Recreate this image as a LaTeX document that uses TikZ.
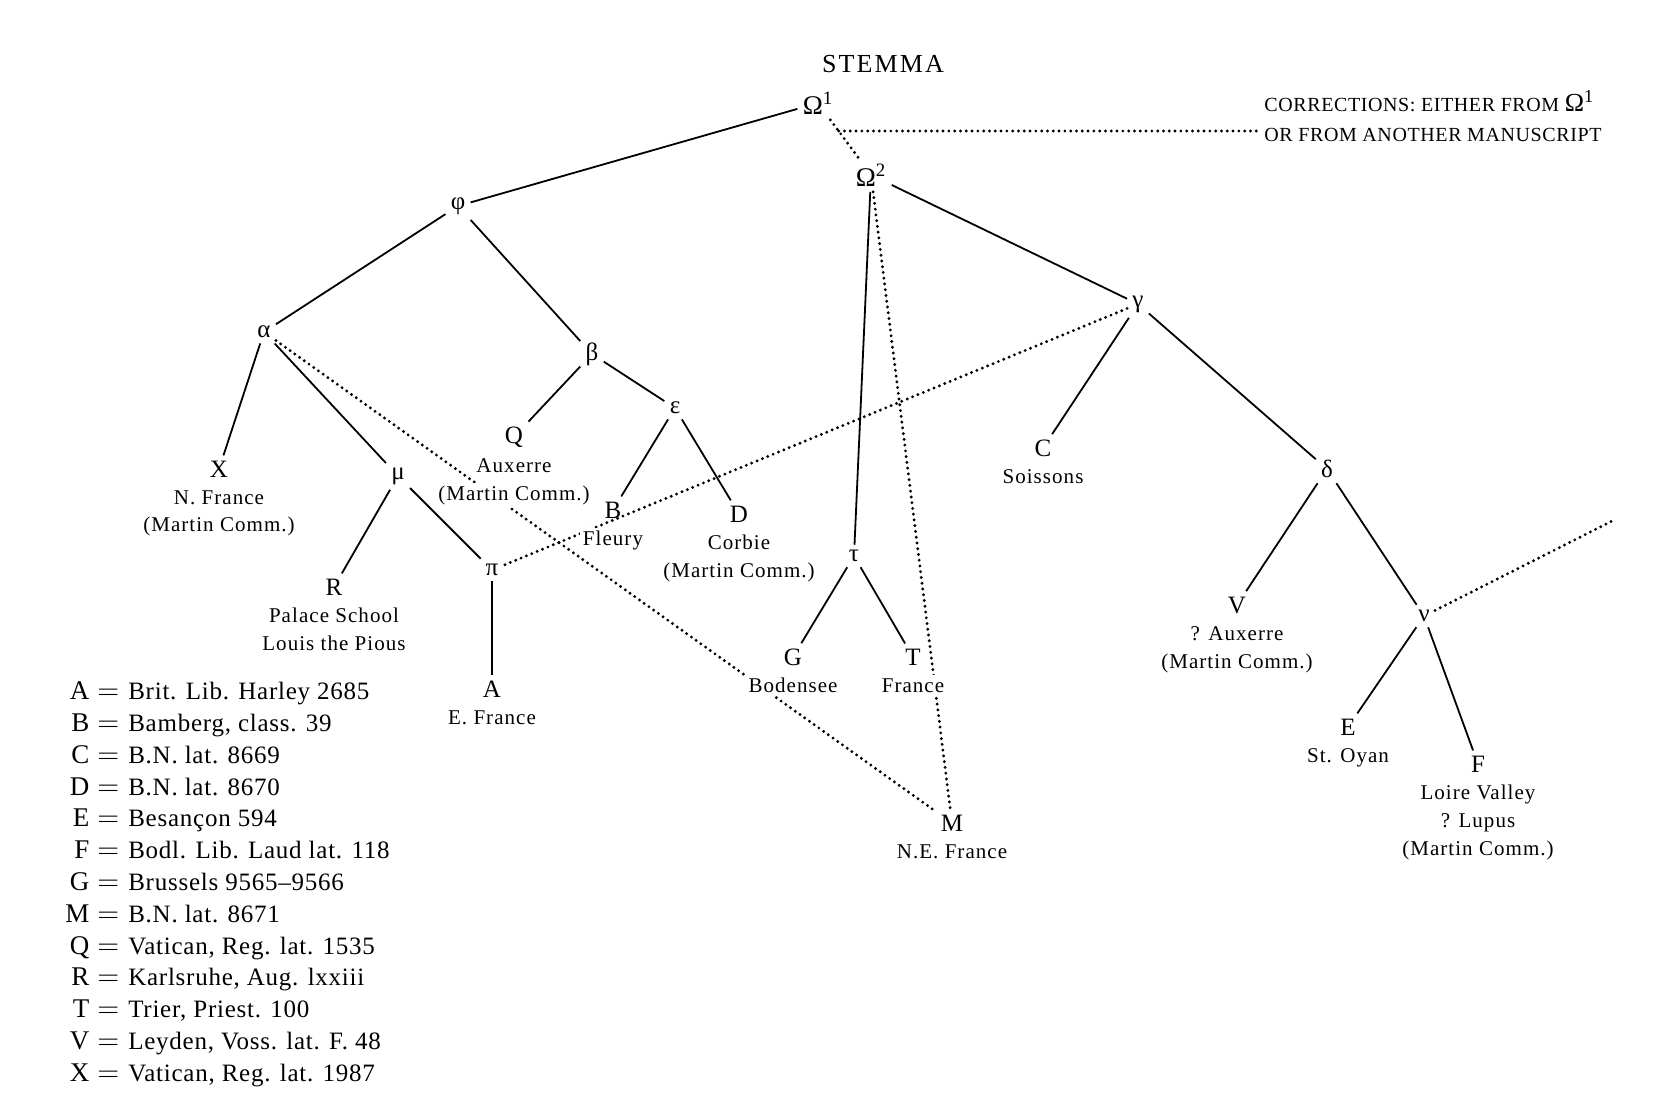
\documentclass[tikz,border=0pt]{standalone}
\usepackage{fontspec}
\usepackage{array}
\setmainfont{Liberation Serif}
\newfontfamily\lblfont[LetterSpace=5]{Liberation Serif}
\newfontfamily\spacedfont[LetterSpace=8]{Liberation Serif}
\newfontfamily\capsfont[LetterSpace=3]{Liberation Serif}
\newfontfamily\legfont[LetterSpace=3]{Liberation Serif}
\pgfdeclarelayer{bg}
\pgfsetlayers{bg,main}
\begin{document}
\begin{tikzpicture}[x=0.5pt,y=-0.5pt,
  ms/.style={inner sep=2.5pt, font=\fontsize{12.5}{14}\selectfont},
  gk/.style={inner sep=2.5pt, font=\fontsize{12.5}{14}\selectfont},
  place/.style={anchor=north, inner sep=1.5pt, fill=white, align=center,
    font=\lblfont\fontsize{10.5}{13.85}\selectfont},
  tie/.style={line width=0.9pt},
  dots/.style={line width=1.6pt, line cap=round, dash pattern=on 0pt off 2.9pt},
]
\useasboundingbox (0,0) rectangle (1670,1118);

% title and note
\node[font=\spacedfont\fontsize{13}{15}\selectfont] (title) at (883,64) {STEMMA};
\node[anchor=west, inner sep=0pt, font=\capsfont\fontsize{10}{12}\selectfont] (corr1) at (1264,101)
  {CORRECTIONS: EITHER FROM {\fontsize{13}{15}\selectfont Ω\textsuperscript{1}}};
\node[anchor=west, inner sep=3pt, font=\capsfont\fontsize{10}{12}\selectfont] (corr2) at (1258,135)
  {OR FROM ANOTHER MANUSCRIPT};

% hyparchetypes
\node[gk, font=\fontsize{13.5}{15}\selectfont] (Om1) at (818,103) {Ω\textsuperscript{1}};
\node[gk, font=\fontsize{13.5}{15}\selectfont] (Om2) at (871,175) {Ω\textsuperscript{2}};
\node[gk] (phi) at (458,206) {φ};
\node[gk] (alpha) at (264,332) {α};
\node[gk] (beta) at (592,354) {β};
\node[gk] (gamma) at (1138,304) {γ};
\node[gk] (mu) at (398,476) {μ};
\node[gk] (eps) at (675,408) {ε};
\node[gk] (pi) at (492,570) {π};
\node[gk] (tau) at (854,556) {τ};
\node[gk] (delta) at (1327,469) {δ};
\node[gk] (nu) at (1424,616) {ν};
\coordinate (nuend) at (1614,520);

% manuscripts
\node[ms] (X) at (219,469) {X};
\node[place] (Xl) at (219,487) {N. France\\(Martin Comm.)};
\node[ms] (Q) at (514,437) {Q};
\node[place] (Ql) at (514,455) {Auxerre};
\node[place] (Qm) at (514,482.7) {(Martin Comm.)};
\node[ms] (B) at (613,510) {B};
\node[place] (Bl) at (613,528) {Fleury};
\node[ms] (D) at (739,514) {D};
\node[place] (Dl) at (739,532) {Corbie\\(Martin Comm.)};
\node[ms] (R) at (334,587) {R};
\node[place] (Rl) at (334,605) {Palace School\\Louis the Pious};
\node[ms] (A) at (492,689) {A};
\node[place] (Al) at (492,707) {E. France};
\node[ms] (G) at (793,657) {G};
\node[place] (Gl) at (793,675) {Bodensee};
\node[ms] (T) at (913,657) {T};
\node[place] (Tl) at (913,675) {France};
\node[ms] (M) at (952,823) {M};
\node[place] (Ml) at (952,841) {N.E. France};
\node[ms] (C) at (1043,448) {C};
\node[place] (Cl) at (1043,466) {Soissons};
\node[ms] (V) at (1237,605) {V};
\node[place] (Vl) at (1237,623) {? Auxerre\\(Martin Comm.)};
\node[ms] (E) at (1348,727) {E};
\node[place] (El) at (1348,745) {St. Oyan};
\node[ms] (F) at (1478,764) {F};
\node[place] (Fl) at (1478,782) {Loire Valley\\? Lupus\\(Martin Comm.)};

% legend
\node[anchor=north west, inner sep=0pt, font=\legfont\fontsize{12.5}{15.9}\selectfont] (legend) at (65,677) {%
  \begin{tabular}{@{}>{\fontsize{13.5}{15.9}\selectfont}r@{\hspace{4pt}}>{\fontsize{13.5}{15.9}\selectfont}c@{\hspace{4.5pt}}l@{}}
  A & $=$ & Brit. Lib. Harley 2685\\
  B & $=$ & Bamberg, class. 39\\
  C & $=$ & B.N. lat. 8669\\
  D & $=$ & B.N. lat. 8670\\
  E & $=$ & Besançon 594\\
  F & $=$ & Bodl. Lib. Laud lat. 118\\
  G & $=$ & Brussels 9565–9566\\
  M & $=$ & B.N. lat. 8671\\
  Q & $=$ & Vatican, Reg. lat. 1535\\
  R & $=$ & Karlsruhe, Aug. lxxiii\\
  T & $=$ & Trier, Priest. 100\\
  V & $=$ & Leyden, Voss. lat. F. 48\\
  X & $=$ & Vatican, Reg. lat. 1987
  \end{tabular}};

\begin{pgfonlayer}{bg}
  % solid descent
  \draw[tie] (Om1) -- (phi);
  \draw[tie] (phi) -- (alpha);
  \draw[tie] (phi) -- (beta);
  \draw[tie] (alpha) -- (X);
  \draw[tie] (alpha) -- (mu);
  \draw[tie] (mu) -- (R);
  \draw[tie] (mu) -- (pi);
  \draw[tie] (pi) -- (A);
  \draw[tie] (beta) -- (Q);
  \draw[tie] (beta) -- (eps);
  \draw[tie] (eps) -- (B);
  \draw[tie] (eps) -- (D);
  \draw[tie] (Om2) -- (tau);
  \draw[tie] (tau) -- (G);
  \draw[tie] (tau) -- (T);
  \draw[tie] (Om2) -- (gamma);
  \draw[tie] (gamma) -- (C);
  \draw[tie] (gamma) -- (delta);
  \draw[tie] (delta) -- (V);
  \draw[tie] (delta) -- (nu);
  \draw[tie] (nu) -- (E);
  \draw[tie] (nu) -- (F);
  % contamination / corrections
  \draw[dots] (Om1) -- (Om2);
  \draw[dots] ([yshift=2pt]corr2.west -| Om1.south east) -- ([yshift=2pt]corr2.west);
  \draw[dots] (alpha) -- (M);
  \draw[dots] (gamma) -- (pi);
  \draw[dots] (Om2) -- (M);
  \draw[dots] (nu) -- (nuend);
\end{pgfonlayer}
\end{tikzpicture}
\end{document}
